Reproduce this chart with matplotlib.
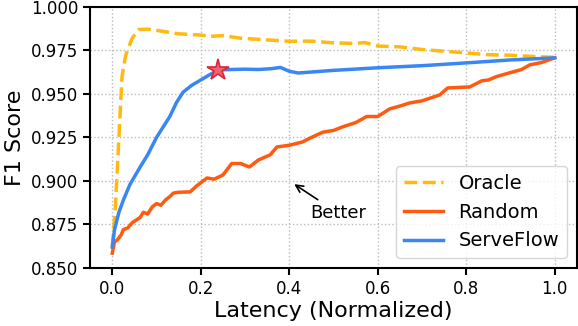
import numpy as np
import matplotlib.pyplot as plt

# values
oracle_x = [0, 0.007, 0.013, 0.022, 0.03, 0.045, 0.06, 0.08, 0.1, 0.15, 0.2, 0.22, 0.25, 0.29,
            0.35, 0.4, 0.45, 0.5, 0.55, 0.57, 0.6, 0.65, 0.7, 0.75, 0.8, 0.85, 0.9, 0.95, 1.0]
oracle_y = [0.862, 0.885, 0.915, 0.960, 0.972, 0.982, 0.987, 0.9872, 0.9865, 0.9845, 0.9838, 0.983,
            0.9835, 0.982, 0.981, 0.9802, 0.9803, 0.9793, 0.979, 0.9795, 0.9775, 0.977, 0.9755,
            0.9745, 0.9735, 0.9725, 0.9722, 0.9715, 0.971]

serveflow_x = [0, 0.005, 0.015, 0.025, 0.04, 0.063, 0.08, 0.1, 0.115, 0.13, 0.145, 0.16, 0.18,
               0.2, 0.22, 0.24, 0.27, 0.3, 0.33, 0.36, 0.38, 0.4, 0.42, 0.5, 0.6, 0.7, 0.8,
               0.9, 1.0]
serveflow_y = [0.862, 0.872, 0.882, 0.889, 0.898, 0.908, 0.915, 0.925, 0.931, 0.937, 0.945, 0.951,
               0.955, 0.958, 0.961, 0.9638, 0.964, 0.9642, 0.964, 0.9645, 0.9652, 0.963, 0.962,
               0.9635, 0.965, 0.9662, 0.9678, 0.9695, 0.9707]

random_x = [0, 0.005, 0.011, 0.02, 0.025, 0.035, 0.045, 0.063, 0.07, 0.08, 0.09, 0.1, 0.11, 0.12,
            0.13, 0.138, 0.15, 0.176, 0.19, 0.214, 0.23, 0.25, 0.27, 0.29, 0.31, 0.33, 0.357,
            0.372, 0.4, 0.43, 0.45, 0.476, 0.5, 0.52, 0.55, 0.575, 0.6, 0.627, 0.65, 0.672, 0.7,
            0.74, 0.758, 0.808, 0.835, 0.85, 0.869, 0.905, 0.925, 0.944, 0.97, 1.0]
random_y = [0.8585, 0.865, 0.866, 0.869, 0.872, 0.873, 0.876, 0.879, 0.882, 0.881, 0.885, 0.887,
            0.886, 0.889, 0.891, 0.893, 0.8935, 0.8937, 0.897, 0.9017, 0.901, 0.9034, 0.910,
            0.910, 0.908, 0.912, 0.915, 0.9195, 0.9205, 0.9224, 0.925, 0.928, 0.929, 0.931,
            0.9335, 0.937, 0.937, 0.9414, 0.943, 0.9448, 0.946, 0.9494, 0.9534, 0.954, 0.9575,
            0.958, 0.960, 0.9626, 0.964, 0.9667, 0.968, 0.9707]

star_x, star_y = 0.24, 0.9638

fig = plt.figure(figsize=(5.78, 3.26), dpi=100)
ax = fig.add_axes([0.156, 0.178, 0.842, 0.801])

ax.grid(True, linestyle=":", color="#bbbbbb", linewidth=1.0, zorder=0)
ax.plot(oracle_x, oracle_y, color="#FFB90F", linestyle="--", linewidth=2.5, label="Oracle", zorder=3)
ax.plot(random_x, random_y, color="#FF5A0F", linewidth=2.5, label="Random", zorder=3)
ax.plot(serveflow_x, serveflow_y, color="#3A86F5", linewidth=2.5, label="ServeFlow", zorder=4)
ax.plot([star_x], [star_y], marker="*", markersize=16, markerfacecolor="#EC6570",
        markeredgecolor="#D62839", markeredgewidth=1.2, linestyle="none", zorder=5)

ax.annotate("Better", xy=(0.406, 0.899), xytext=(0.51, 0.8816), ha="center", va="center",
            fontsize=13, arrowprops=dict(arrowstyle="->", color="black", lw=1.2))

ax.set_xlim(-0.05, 1.05)
ax.set_ylim(0.85, 1.0)
ax.set_xticks([0.0, 0.2, 0.4, 0.6, 0.8, 1.0])
ax.set_yticks([0.850, 0.875, 0.900, 0.925, 0.950, 0.975, 1.000])
ax.set_yticklabels(["%.3f" % v for v in ax.get_yticks()])
ax.tick_params(labelsize=12, width=1.5, length=5)
for s in ax.spines.values():
    s.set_linewidth(1.5)

ax.set_xlabel("Latency (Normalized)", fontsize=16, labelpad=2)
ax.set_ylabel("F1 Score", fontsize=16, labelpad=4)
ax.legend(loc="lower right", fontsize=14, handlelength=2.0, borderaxespad=0.5)

plt.savefig("out.png", dpi=100)
